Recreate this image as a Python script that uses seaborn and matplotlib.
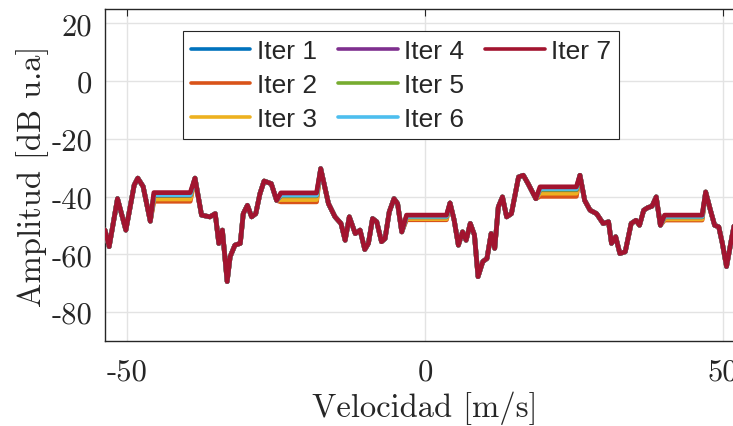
import numpy as np
import pandas as pd
import matplotlib
matplotlib.use("Agg")
import matplotlib.pyplot as plt
import seaborn as sns

# Spectrum of the last iteration (velocity in m/s, amplitude in dB)
velocidad = [
    -53.7, -53.0, -51.6, -50.2, -48.8, -48.2, -47.3, -46.1,
    -45.5, -39.4,
    -38.6, -37.5, -36.1, -35.2, -34.6, -34.0, -33.2, -32.7, -31.9, -31.0,
    -30.5, -29.8, -29.1, -28.4, -27.7, -27.0, -25.8, -24.9,
    -24.2, -18.2,
    -17.5, -16.2, -15.1, -14.1, -13.4, -12.7, -11.7, -10.9, -10.1, -9.5,
    -8.8, -8.1, -7.3, -6.7, -6.0, -5.2, -4.6, -3.9,
    -3.1, 3.6,
    4.2, 4.9, 5.6, 6.3, 6.9, 7.6, 8.3, 8.9, 9.7, 10.4,
    11.1, 11.7, 12.3, 13.0, 13.7, 14.5, 15.7, 16.5, 17.3, 18.6,
    19.3, 25.4,
    26.0, 26.8, 27.7, 28.8, 29.9, 30.8, 31.3, 32.0, 32.7, 33.6,
    34.6, 35.4, 36.0, 36.7, 37.4, 38.1, 38.8, 39.5,
    40.2, 46.5,
    47.1, 47.9, 48.6, 49.3, 49.9, 50.6, 51.4, 52.2, 53.0,
]
amplitud_iter7 = [
    -51.6, -57.3, -40.7, -51.6, -36.0, -33.6, -36.5, -48.5,
    -38.6, -38.6,
    -33.6, -46.4, -47.0, -45.9, -56.2, -51.6, -69.4, -60.8, -56.8, -56.2,
    -45.9, -43.0, -47.0, -45.9, -39.0, -34.6, -35.5, -41.3,
    -38.7, -38.7,
    -30.3, -42.4, -47.0, -49.3, -55.1, -47.0, -52.8, -51.6, -58.3, -56.2,
    -47.6, -48.7, -55.6, -54.5, -45.3, -40.7, -42.4, -52.2,
    -46.4, -46.4,
    -42.2, -48.2, -56.8, -52.2, -55.1, -49.3, -53.3, -67.7, -62.5, -61.4,
    -52.8, -57.9, -43.6, -40.1, -47.0, -45.9, -33.2, -32.6, -35.5, -40.7,
    -36.6, -36.6,
    -32.6, -41.3, -44.7, -45.9, -49.3, -48.7, -56.2, -53.9, -59.7, -59.1,
    -49.3, -48.2, -49.9, -44.7, -43.8, -43.3, -40.1, -49.9,
    -46.4, -46.4,
    -38.4, -44.7, -49.9, -50.5, -56.2, -64.2, -55.1, -46.5, -50.0,
]

# Plateaus where the iterations differ: (start, end) velocity of each plateau
mesetas = [(-45.5, -39.4), (-24.2, -18.2), (-3.1, 3.6), (19.3, 25.4), (40.2, 46.5)]
# Plateau level of each plateau for Iter 1 ... Iter 7 (dB)
nivel_iter1 = [-40.3, -40.4, -47.3, -38.3, -47.5]
nivel_iter2 = [-41.6, -41.8, -48.0, -39.9, -48.1]
nivel_iter3 = [-40.8, -41.0, -47.6, -38.8, -47.7]
nivel_iter4 = [-39.6, -39.7, -47.0, -37.6, -47.0]
nivel_iter5 = [-39.5, -39.6, -46.9, -37.5, -46.9]
nivel_iter6 = [-39.3, -39.4, -46.8, -37.2, -46.8]
nivel_iter7 = [-38.6, -38.7, -46.4, -36.6, -46.4]

iteraciones = ["Iter 1", "Iter 2", "Iter 3", "Iter 4", "Iter 5", "Iter 6", "Iter 7"]
niveles = [nivel_iter1, nivel_iter2, nivel_iter3, nivel_iter4,
           nivel_iter5, nivel_iter6, nivel_iter7]
colores = ["#0072BD", "#D95319", "#EDB120", "#7E2F8E", "#77AC30", "#4DBEEE", "#A2142F"]

x_ticks = [-50, 0, 50]
x_tick_labels = ["-50", "0", "50"]
y_ticks = [-80, -60, -40, -20, 0, 20]
y_tick_labels = ["-80", "-60", "-40", "-20", "0", "20"]

# Long table: one row per (iteration, velocity)
v = np.array(velocidad)
filas = []
for nombre, nivel in zip(iteraciones, niveles):
    amp = np.array(amplitud_iter7, dtype=float)
    for (v0, v1), lv in zip(mesetas, nivel):
        amp[(v >= v0 - 1e-9) & (v <= v1 + 1e-9)] = lv
    filas.append(pd.DataFrame({"Velocidad": v, "Amplitud": amp, "Iteración": nombre}))
df = pd.concat(filas, ignore_index=True)

sns.set_style("white")
plt.rcParams["font.family"] = ["cmr10", "DejaVu Serif"]
plt.rcParams["axes.unicode_minus"] = False
plt.rcParams["axes.formatter.use_mathtext"] = True

fig = plt.figure(figsize=(7.33, 4.27), dpi=100)
ax = fig.add_axes([105 / 733, 85 / 427, 640 / 733, 332 / 427])

sns.lineplot(data=df, x="Velocidad", y="Amplitud", hue="Iteración",
             hue_order=iteraciones, palette=colores, sort=False,
             linewidth=3.4, estimator=None, ax=ax, legend=False, zorder=3)

ax.set_xlim(-53.7, 53.7)
ax.set_ylim(-90, 25)
ax.set_xticks(x_ticks, labels=x_tick_labels)
ax.set_yticks(y_ticks, labels=y_tick_labels)
ax.tick_params(axis="both", direction="in", length=5, width=0.8,
               labelsize=22, top=True, right=True, color="#262626",
               labelcolor="#262626")
ax.tick_params(axis="x", pad=12)
ax.tick_params(axis="y", pad=9)
ax.grid(True, color="#e3e3e3", linewidth=1.0, zorder=0)
for s in ax.spines.values():
    s.set_color("#262626")
    s.set_linewidth(1.0)

ax.set_xlabel("Velocidad [m/s]", fontsize=23.5, color="#262626", labelpad=4)
ax.set_ylabel("Amplitud [dB u.a]", fontsize=23.5, color="#262626", labelpad=2)

# Legend filled column by column: 3 + 3 + 1 entries
handles = [plt.Line2D([], [], color=c, linewidth=2.6) for c in colores]
vacio = plt.Line2D([], [], color="none", linewidth=0)
leg = ax.legend(handles + [vacio, vacio], iteraciones + ["", ""], ncol=3,
                loc="upper left", bbox_to_anchor=(0.122, 0.934), borderaxespad=0,
                prop={"family": "Liberation Sans", "size": 19},
                handlelength=2.25, handletextpad=0.25, columnspacing=0.8,
                labelspacing=0.38, borderpad=0.3, frameon=True, fancybox=False)
leg.get_frame().set_edgecolor("#262626")
leg.get_frame().set_linewidth(0.8)
leg.get_frame().set_alpha(1.0)

fig.savefig("out.png", dpi=100)
